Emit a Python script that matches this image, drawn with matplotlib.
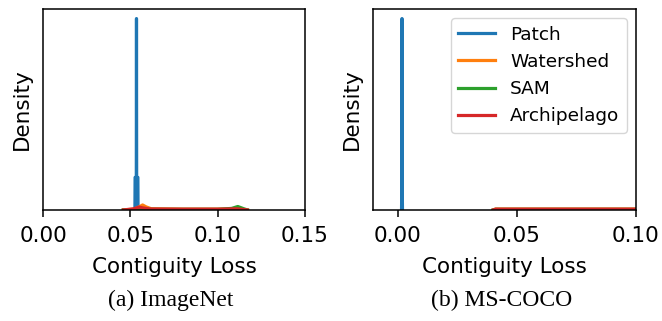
import matplotlib
matplotlib.use("Agg")
import matplotlib.pyplot as plt

# density curves (arbitrary density units, y ticks hidden)
methods = ["Patch", "Watershed", "SAM", "Archipelago"]
colors = ["#1f77b4", "#ff7f0e", "#2ca02c", "#d62728"]

# ImageNet
in_patch_x = [0.0526, 0.0527, 0.0534, 0.0535, 0.0536, 0.0543, 0.0544]
in_patch_y = [0.0, 17.0, 17.0, 100.0, 17.0, 17.0, 0.0]
in_water_x = [0.046, 0.052, 0.0555, 0.0570, 0.0590, 0.062, 0.080, 0.100, 0.112, 0.117]
in_water_y = [0.0, 0.4, 1.8, 2.6, 1.6, 0.6, 0.4, 0.4, 0.5, 0.0]
in_sam_x = [0.046, 0.052, 0.056, 0.062, 0.080, 0.100, 0.108, 0.1115, 0.115, 0.117]
in_sam_y = [0.0, 0.2, 0.6, 0.3, 0.3, 0.3, 0.8, 1.8, 0.6, 0.0]
in_arch_x = [0.046, 0.052, 0.0550, 0.0575, 0.061, 0.080, 0.100, 0.111, 0.117]
in_arch_y = [0.0, 0.6, 1.5, 1.0, 0.5, 0.4, 0.4, 0.6, 0.0]

# MS-COCO
co_patch_x = [0.0015, 0.0016, 0.0017, 0.0018, 0.0019]
co_patch_y = [0.0, 12.0, 100.0, 12.0, 0.0]
co_water_x = [0.040, 0.041, 0.060, 0.080, 0.100, 0.110]
co_water_y = [0.0, 0.45, 0.45, 0.45, 0.45, 0.45]
co_sam_x = [0.040, 0.041, 0.060, 0.080, 0.100, 0.110]
co_sam_y = [0.0, 0.3, 0.3, 0.3, 0.3, 0.3]
co_arch_x = [0.040, 0.041, 0.060, 0.080, 0.100, 0.110]
co_arch_y = [0.0, 0.4, 0.4, 0.4, 0.4, 0.4]

in_ticks = [0.00, 0.05, 0.10, 0.15]
co_ticks = [0.00, 0.05, 0.10]
captions = ["(a) ImageNet", "(b) MS-COCO"]

plt.rcParams["font.family"] = ["DejaVu Sans"]
plt.rcParams["font.size"] = 15.5
plt.rcParams["axes.linewidth"] = 1.1
plt.rcParams["xtick.major.size"] = 5.2
plt.rcParams["xtick.major.width"] = 1.1
plt.rcParams["xtick.major.pad"] = 6.2

fig = plt.figure(figsize=(6.62, 3.21), dpi=100)
ax1 = fig.add_axes([0.065, 0.346, 0.3958, 0.626])
ax2 = fig.add_axes([0.5634, 0.346, 0.3973, 0.626])

curves_in = [(in_patch_x, in_patch_y), (in_water_x, in_water_y),
             (in_sam_x, in_sam_y), (in_arch_x, in_arch_y)]
curves_co = [(co_patch_x, co_patch_y), (co_water_x, co_water_y),
             (co_sam_x, co_sam_y), (co_arch_x, co_arch_y)]

for ax, curves in ((ax1, curves_in), (ax2, curves_co)):
    for (x, y), name, c in zip(curves, methods, colors):
        ax.plot(x, y, color=c, lw=2.3, label=name)
    ax.set_ylim(0, 105)
    ax.set_yticks([])
    ax.set_ylabel("Density", labelpad=8)
    ax.set_xlabel("Contiguity Loss", labelpad=8)

ax1.set_xlim(0, 0.15)
ax1.set_xticks(in_ticks)
ax2.set_xlim(-0.0105, 0.10)
ax2.set_xticks(co_ticks)

ax2.legend(loc="upper right", fontsize=13.3, handlelength=2.0,
           borderaxespad=0.5)

for ax, cap in zip((ax1, ax2), captions):
    pos = ax.get_position()
    fig.text(pos.x0 + pos.width / 2 - 0.005, 0.065, cap, ha="center", va="center",
             family="Liberation Serif", fontsize=17)

fig.savefig("out.png", dpi=100)
